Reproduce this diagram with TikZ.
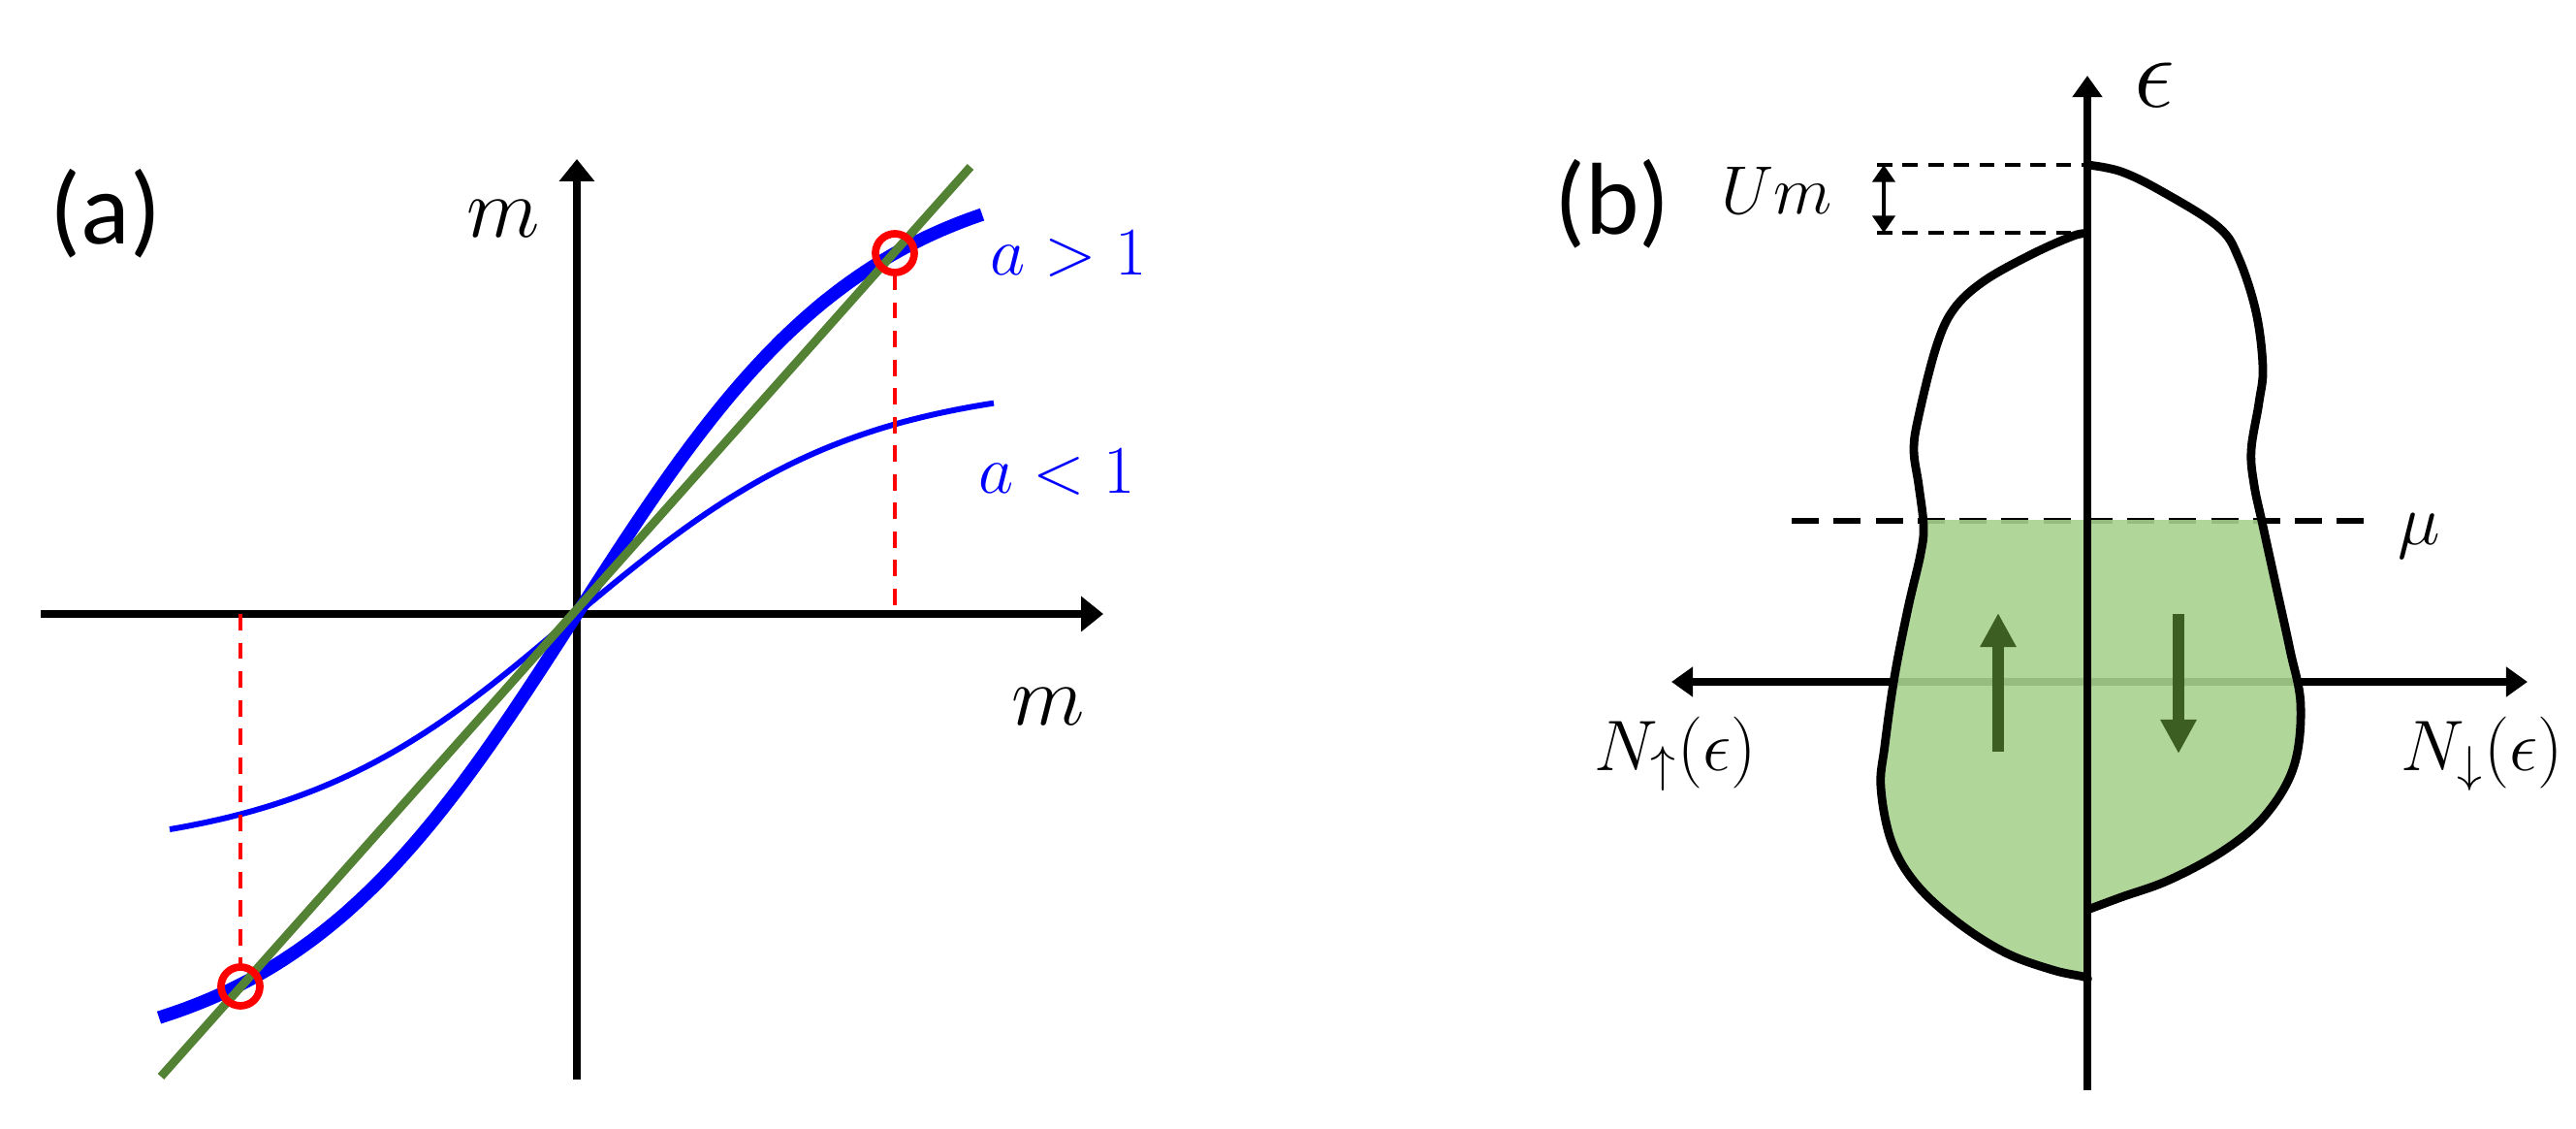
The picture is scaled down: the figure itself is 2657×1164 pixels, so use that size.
\RequirePackage{fix-cm}
\documentclass[tikz,border=0pt]{standalone}
\usepackage{fontspec}
\newfontfamily\labfont{Carlito}
\usetikzlibrary{arrows.meta}
\definecolor{mblue}{RGB}{0,0,255}
\definecolor{lgreen}{RGB}{84,130,53}
\definecolor{fillg}{RGB}{167,209,143}
\definecolor{dgreen}{RGB}{60,94,34}
\definecolor{mred}{RGB}{255,0,0}
\newcommand\setfs[1]{\fontsize{#1}{#1}\selectfont}
\begin{document}
\begin{tikzpicture}[x=0.01cm,y=-0.01cm,
  axisa/.style={line width=2pt, -{Triangle[length=6.5pt,width=10pt]}},
  axisb/.style={line width=2.2pt, -{Triangle[length=6.3pt,width=8.5pt]}},
  axisbb/.style={line width=2.2pt, {Triangle[length=6.3pt,width=8.5pt]}-{Triangle[length=6.3pt,width=8.5pt]}},
  thickb/.style={mblue, line width=3.8pt},
  thinb/.style={mblue, line width=1.7pt},
  gline/.style={lgreen, line width=2.5pt},
  rdash/.style={mred, line width=1.3pt, dash pattern=on 4.8pt off 3.6pt},
  ring/.style={mred, line width=2.2pt},
  panel/.style={font=\labfont\setfs{30}, inner sep=0pt},
  mlab/.style={font=\setfs{25}, inner sep=0pt},
  blab/.style={font=\setfs{20}, inner sep=0pt, text=mblue},
  nlab/.style={font=\setfs{21}, inner sep=0pt},
  outl/.style={line width=2.5pt, line join=round},
  mudash/.style={line width=1.6pt, dash pattern=on 8pt off 4.3pt},
  umdash/.style={line width=1.1pt, dash pattern=on 4.5pt off 3pt},
  umarrow/.style={line width=1.3pt, {Triangle[length=5pt,width=6.5pt]}-{Triangle[length=5pt,width=6.5pt]}},
  spinarrow/.style={dgreen, line width=3.4pt, -{Triangle[length=10pt,width=10pt]}}
]
\useasboundingbox (0,0) rectangle (2657,1164);

% ---------------- panel (a) ----------------
\coordinate (axL) at (42,633);
\coordinate (axR) at (1138,633);
\coordinate (ayB) at (595,1113);
\coordinate (ayT) at (595,164);
\draw[axisa] (axL) -- (axR);
\draw[axisa] (ayB) -- (ayT);

% thin blue (a<1)
\draw[thinb] plot[domain=-420:0, samples=70] ({595+\x},{633-248*tanh(\x/290)});
\draw[thinb] plot[domain=0:430, samples=70] ({595+\x},{633-241*tanh(\x/290)});
% thick blue (a>1)
\draw[thickb] plot[domain=-431:418, samples=120] ({595+\x},{633-466*tanh(\x/300)});
% green line m = m
\coordinate (gA) at (166,1110);
\coordinate (gB) at (1001,172);
\draw[gline] (gA) -- (gB);

% red markers
\coordinate (cR) at (923,261);
\coordinate (cL) at (248,1017);
\coordinate (cRx) at (923,633);
\coordinate (cLx) at (248,633);
\draw[rdash] ([yshift=-0.21cm]cR) -- (cRx);
\draw[rdash] (cLx) -- ([yshift=0.21cm]cL);
\draw[ring] (cR) circle (20);
\draw[ring] (cL) circle (20);

\node[panel] (pa) at (109,220) {(a)};
\node[mlab] (my) at (519,226) {$m$};
\node[mlab] (mx) at (1081,729) {$m$};
\node[blab] (agt) at (1102,262) {$a>1$};
\node[blab] (alt) at (1090,487) {$a<1$};

% ---------------- panel (b) ----------------
\coordinate (hL) at (1724,703);
\coordinate (hR) at (2607,703);
\coordinate (vB) at (2153,1124);
\coordinate (vT) at (2153,78);
\coordinate (muL) at (1848,537);
\coordinate (muR) at (2444,537);

\draw[axisbb] (hL) -- (hR);
\draw[mudash] (muL) -- (muR);

\def\leftcurve{(2153,241) (2139,243) (2096,262) (2046,290) (2015,319) (1997,358) (1979,429) (1974,464) (1979,500) (1984,542) (1981,571) (1968,627) (1954,698) (1944,769) (1940,812) (1951,868) (1976,911) (2018,950) (2068,982) (2117,1000) (2149,1007) (2153,1010)}
\def\rightcurve{(2153,170) (2188,177) (2231,198) (2288,234) (2309,266) (2327,322) (2334,379) (2330,415) (2322,464) (2325,500) (2334,542) (2348,606) (2362,670) (2373,727) (2366,790) (2337,840) (2295,876) (2238,907) (2188,925) (2153,938)}

\begin{scope}
  \clip (1800,537) rectangle (2500,1100);
  \fill[fillg, opacity=0.9] plot[smooth, tension=0.6] coordinates {\leftcurve} -- cycle;
  \fill[fillg, opacity=0.9] plot[smooth, tension=0.6] coordinates {\rightcurve} -- cycle;
\end{scope}
\draw[outl] plot[smooth, tension=0.6] coordinates {\leftcurve};
\draw[outl] plot[smooth, tension=0.6] coordinates {\rightcurve};

\draw[axisb] (vB) -- (vT);

% Um marker
\coordinate (umT) at (1943,170);
\coordinate (umB) at (1943,240);
\coordinate (umTa) at (1936,170);
\coordinate (umBa) at (1936,240);
\coordinate (umTb) at (2153,170);
\coordinate (umBb) at (2142,240);
\draw[umdash] (umTa) -- (umTb);
\draw[umdash] (umBa) -- (umBb);
\draw[umarrow] (umT) -- (umB);

% spin arrows
\coordinate (upA) at (2061,775);
\coordinate (upB) at (2061,632);
\coordinate (dnA) at (2247,633);
\coordinate (dnB) at (2247,777);
\draw[spinarrow] (upA) -- (upB);
\draw[spinarrow] (dnA) -- (dnB);

\node[panel] (pb) at (1663,210) {(b)};
\node[font=\setfs{30}, inner sep=0pt] (eps) at (2222,88) {$\epsilon$};
\node[font=\setfs{20}, inner sep=0pt] (um) at (1833,196) {$Um$};
\node[nlab] (mu) at (2495,553) {$\mu$};
\node[nlab] (nup) at (1728,777) {$N_{\uparrow}(\epsilon)$};
\node[nlab] (ndn) at (2560,777) {$N_{\downarrow}(\epsilon)$};
\end{tikzpicture}
\end{document}
